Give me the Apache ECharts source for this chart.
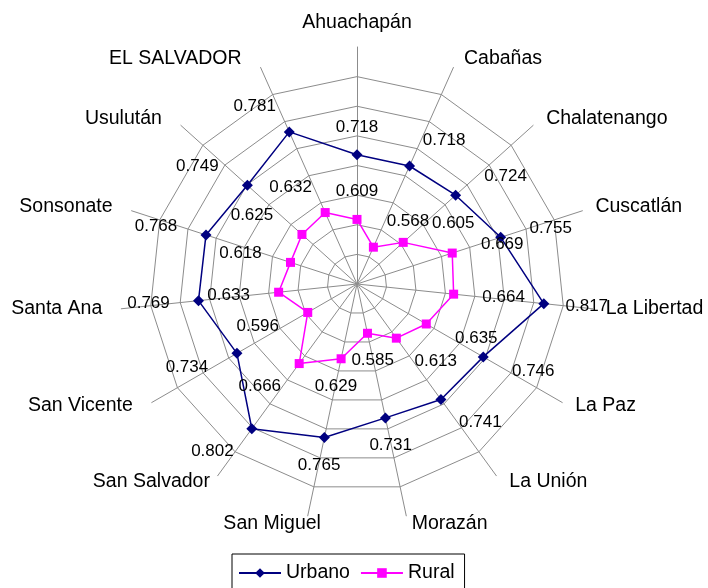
<!DOCTYPE html>
<html>
<head>
<meta charset="utf-8">
<script src="https://cdn.jsdelivr.net/npm/echarts@6/dist/echarts.min.js"></script>
<style>
  html, body { margin: 0; padding: 0; background: #fff; }
  #main { width: 708px; height: 588px; }
</style>
</head>
<body>
<div id="main"></div>
<script>
// departamentos, clockwise from the top
var categories = ['Ahuachapán', 'Cabañas', 'Chalatenango', 'Cuscatlán', 'La Libertad', 'La Paz',
    'La Unión', 'Morazán', 'San Miguel', 'San Salvador', 'San Vicente', 'Santa Ana',
    'Sonsonate', 'Usulután', 'EL SALVADOR'];
var urbano = [0.718, 0.718, 0.724, 0.755, 0.817, 0.746, 0.741, 0.731, 0.765, 0.802, 0.734, 0.769, 0.768, 0.749, 0.781];
var rural = [0.609, 0.568, 0.605, 0.669, 0.664, 0.635, 0.613, 0.585, 0.629, 0.666, 0.596, 0.633, 0.618, 0.625, 0.632];
var axisMin = 0.5;
var axisMax = 0.9;

var font = 'Liberation Sans, Arial, sans-serif';
var n = categories.length;
var cx = 357, cy = 284, R = 237;

// radar draws counter clockwise, so feed it in reverse to get them clockwise
var order = [0];
for (var k = n - 1; k > 0; k--) order.push(k);
var indicators = order.map(function (i) {
    return {name: categories[i], min: axisMin, max: axisMax};
});

function ang(i) { return i * 2 * Math.PI / n; }

// value label offset, out from the point like excel puts them
function labelOffset(i, v) {
    var s = Math.sin(ang(i)), c = Math.cos(ang(i));
    var f;
    if (c >= 0) f = 1.7 * s;
    else f = (s > 0 ? 1 : -1) * Math.max(0, Math.abs(s) - 0.15) * 1.8;
    f = Math.max(-1, Math.min(1, f));
    // points far out on the sides get pulled in a bit so they don't hit the names
    var d = (v > 0.8 && Math.abs(s) > 0.95) ? 43 : 50;
    return [d * f, -28 * c];
}

// category name placement at the end of each spoke
function nameLabel(i) {
    var s = Math.sin(ang(i)), c = Math.cos(ang(i));
    if (Math.abs(s) < 0.01) {
        return {align: 'center', offset: [0, -24]};
    }
    var w = Math.min(1, Math.abs(s) / 0.5);
    var gap;
    if (s > 0) {
        gap = 13 * w;
    } else {
        // lower left names sit closer to their spoke
        gap = -19 + 184 * Math.pow(Math.max(0, -c - 0.45), 2.73);
    }
    return {align: s > 0 ? 'left' : 'right', offset: [gap, -9 * c - 1]};
}

function buildData(vals) {
    var out = [];
    for (var i = 0; i < n; i++) {
        out.push({value: [vals[i], i], label: {offset: labelOffset(i, vals[i])}});
    }
    // close the polygon
    out.push({value: [vals[0], n], symbol: 'none', label: {show: false}});
    return out;
}

var nameData = categories.map(function (c, i) {
    return {value: [axisMax, i], name: c, label: nameLabel(i)};
});

var ringColors = [];
for (var j = 0; j < 8; j++) ringColors.push('#8c8c8c');
ringColors.push('rgba(0,0,0,0)');

var valueLabel = {
    show: true, position: 'inside', color: '#000', fontSize: 17, fontFamily: font,
    formatter: function (p) { return p.value[0].toFixed(3); }
};

var app = echarts.init(document.getElementById('main'));
var option = {
    animation: false,
    backgroundColor: '#fff',
    textStyle: {fontFamily: font},
    radar: {
        center: [cx, cy],
        radius: R,
        startAngle: 90,
        splitNumber: 8,
        indicator: indicators,
        axisName: {show: false},
        axisLine: {lineStyle: {color: '#8c8c8c', width: 1}},
        splitLine: {lineStyle: {color: ringColors, width: 1}},
        splitArea: {show: false}
    },
    polar: {center: [cx, cy], radius: R},
    angleAxis: {type: 'value', min: 0, max: n, startAngle: 90, clockwise: true, show: false},
    radiusAxis: {type: 'value', min: axisMin, max: axisMax, show: false},
    legend: {
        data: ['Urbano', 'Rural'],
        left: 232,
        top: 554,
        itemWidth: 42,
        itemHeight: 12,
        itemGap: 10,
        padding: [9, 10, 14, 6],
        borderColor: '#000',
        borderWidth: 1,
        textStyle: {fontSize: 19.5, fontFamily: font, color: '#000'}
    },
    series: [
        {
            name: 'names',
            type: 'scatter',
            coordinateSystem: 'polar',
            silent: true,
            symbolSize: 1,
            itemStyle: {color: 'rgba(0,0,0,0)', opacity: 1},
            label: {
                show: true, position: 'inside', color: '#000', fontSize: 19.5, fontFamily: font,
                formatter: function (p) { return p.name; }
            },
            data: nameData
        },
        {
            name: 'Urbano',
            type: 'line',
            coordinateSystem: 'polar',
            symbol: 'diamond',
            symbolSize: 11,
            color: '#000080',
            lineStyle: {width: 1.5, color: '#000080'},
            itemStyle: {color: '#000080'},
            label: valueLabel,
            data: buildData(urbano),
            z: 3
        },
        {
            name: 'Rural',
            type: 'line',
            coordinateSystem: 'polar',
            symbol: 'rect',
            symbolSize: 9,
            color: '#ff00ff',
            lineStyle: {width: 1.5, color: '#ff00ff'},
            itemStyle: {color: '#ff00ff'},
            label: valueLabel,
            data: buildData(rural),
            z: 3
        }
    ]
};
app.setOption(option);
</script>
</body>
</html>
